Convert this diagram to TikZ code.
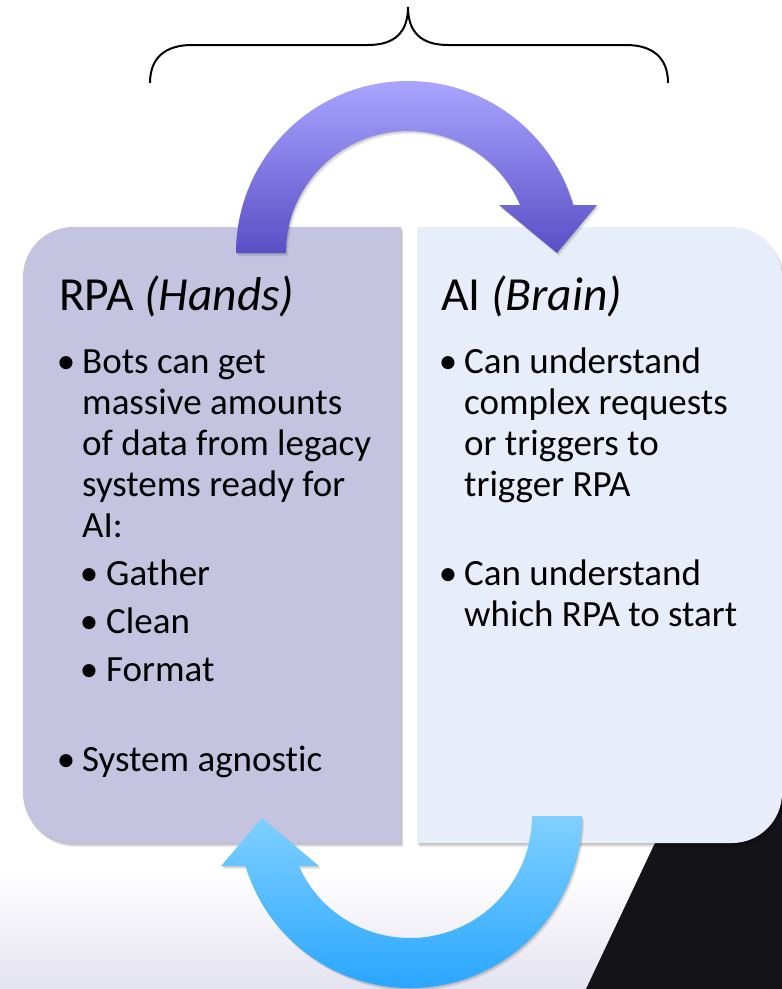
\documentclass[tikz,border=0pt]{standalone}
\usepackage{fontspec}
\setmainfont{Carlito}[Ligatures={NoCommon}]
\definecolor{leftc}{HTML}{C4C4E0}
\definecolor{rightc}{HTML}{E8EEF9}
\definecolor{bgbot}{HTML}{E4E3F0}
\definecolor{darkc}{HTML}{141418}
\definecolor{purpTop}{HTML}{A9A5FF}
\definecolor{purpBot}{HTML}{5A4EC6}
\definecolor{blueTop}{HTML}{80D0FF}
\definecolor{blueBot}{HTML}{29A6FF}
\newcommand\LBoxPath{(401,227) -- (73,227) arc[start angle=270, end angle=180, radius=50] -- (23,793) arc[start angle=180, end angle=90, radius=50] -- (401,843) -- cycle}
\newcommand\RBoxPath{(417,227) -- (732,227) arc[start angle=270, end angle=360, radius=50] -- (782,793) arc[start angle=0, end angle=90, radius=50] -- (417,843) -- cycle}
\newcommand\TopArrowPath{(236,253) arc[start angle=180, end angle=343.8, radius=172] -- (597,205) -- (557,253) -- (499,205) -- (520,205) arc[start angle=336.8, end angle=180, radius=122] -- cycle}
\newcommand\BotArrowPath{(582,816) arc[start angle=0, end angle=163.1, radius=172] -- (221,866) -- (262,818) -- (319,866) -- (298.7,866) arc[start angle=155.8, end angle=0, radius=122] -- cycle}
\begin{document}
\begin{tikzpicture}[x=1pt,y=-1pt,
  title/.style={anchor=base west, inner sep=0pt, font=\fontsize{47.5}{52}\selectfont},
  body/.style={anchor=base west, inner sep=0pt, font=\fontsize{37}{41}\selectfont},
  bul/.style={anchor=base, inner sep=0pt, font=\fontsize{37}{41}\selectfont},
  shadowfill/.style={fill=black, opacity=0.07},
  bracestyle/.style={line width=2pt, black}]
\useasboundingbox (0,0) rectangle (782,989);
% background
\fill[white] (0,0) rectangle (782,989);
\shade[top color=white, bottom color=bgbot] (0,872) rectangle (782,989);
\fill[darkc] (586,989) -- (680,790) -- (782,790) -- (782,989) -- cycle;
% brace
\draw[bracestyle] (150,83) .. controls (150,58) and (165,45) .. (192,45) -- (368,45)
  .. controls (395,45) and (408,32) .. (408,7)
  .. controls (408,32) and (421,45) .. (448,45) -- (626,45)
  .. controls (653,45) and (668,58) .. (668,83);
% box shadows
\foreach \s in {1,2,3,4} {
  \fill[shadowfill, shift={(\s*0.6,\s)}] \LBoxPath;
  \fill[shadowfill, shift={(\s*0.6,\s)}] \RBoxPath;
}
% boxes
\fill[leftc] \LBoxPath;
\fill[rightc] \RBoxPath;
% arrow shadows
\foreach \s in {1,2,3} {
  \fill[shadowfill, shift={(\s*0.7,\s)}] \TopArrowPath;
  \fill[shadowfill, shift={(\s*0.7,\s)}] \BotArrowPath;
}
% arrows
\shade[top color=purpTop, bottom color=purpBot] \TopArrowPath;
\shade[top color=blueTop, bottom color=blueBot] \BotArrowPath;
% left text
\node[title] (lt) at (59,310) {RPA \textit{(Hands)}};
\node[bul] (lb1) at (66,373) {•};
\node[body] (l1) at (82,373) {Bots can get};
\node[body] (l2) at (82,414) {massive amounts};
\node[body] (l3) at (82,455) {of data from legacy};
\node[body] (l4) at (82,496) {systems ready for};
\node[body] (l5) at (82,537) {AI:};
\node[bul] (lb2) at (89,585) {•};
\node[body] (l6) at (106,585) {Gather};
\node[bul] (lb3) at (89,633) {•};
\node[body] (l7) at (106,633) {Clean};
\node[bul] (lb4) at (89,681) {•};
\node[body] (l8) at (106,681) {Format};
\node[bul] (lb5) at (66,771) {•};
\node[body] (l9) at (82,771) {System agnostic};
% right text
\node[title] (rt) at (441,310) {AI \textit{(Brain)}};
\node[bul] (rb1) at (448,373) {•};
\node[body] (r1) at (464,373) {Can understand};
\node[body] (r2) at (464,414) {complex requests};
\node[body] (r3) at (464,455) {or triggers to};
\node[body] (r4) at (464,496) {trigger RPA};
\node[bul] (rb2) at (448,585) {•};
\node[body] (r5) at (464,585) {Can understand};
\node[body] (r6) at (464,626) {which RPA to start};
\end{tikzpicture}
\end{document}
